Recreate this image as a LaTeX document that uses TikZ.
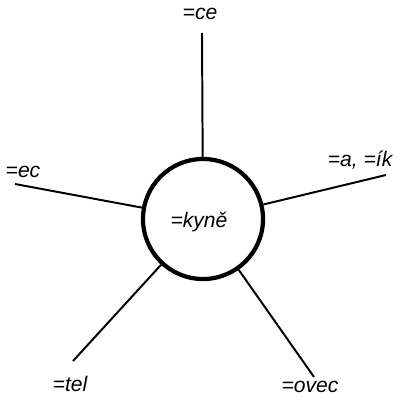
\documentclass[tikz,border=0pt]{standalone}
\usepackage{fontspec}
\setmainfont{Liberation Sans}
\usetikzlibrary{positioning}
\tikzset{
  ring/.style={circle,draw=black,line width=3pt,minimum size=3.0cm,inner sep=0pt},
  spoke/.style={line width=1.4pt,black},
  suffix/.style={font=\fontsize{15}{17}\selectfont\itshape,text=black,inner sep=1pt}
}

\begin{document}
\begin{tikzpicture}[x=0.025cm,y=-0.025cm]
  \useasboundingbox (0,0) rectangle (396,400);
  \node[ring] (root) at (203,219) {};
  \node[suffix] (kyne) at (199,222) {=kyně};
  % outer ends of the spokes
  \coordinate (ce) at (202,33);
  \coordinate (ik) at (386,175);
  \coordinate (ec) at (15,184);
  \coordinate (tel) at (73,361);
  \coordinate (ovec) at (314,377);
  \foreach \n in {ce,ik,ec,tel,ovec} {\draw[spoke] (root)--(\n);}
  % labels
  \node[suffix] (lce) at (200,14) {=ce};
  \node[suffix,anchor=east] (lik) at (394,160) {=a, =ík};
  \node[suffix,anchor=west] (lec) at (4,172) {=ec};
  \node[suffix] (ltel) at (70,384) {=tel};
  \node[suffix] (lovec) at (310,387) {=ovec};
\end{tikzpicture}
\end{document}
